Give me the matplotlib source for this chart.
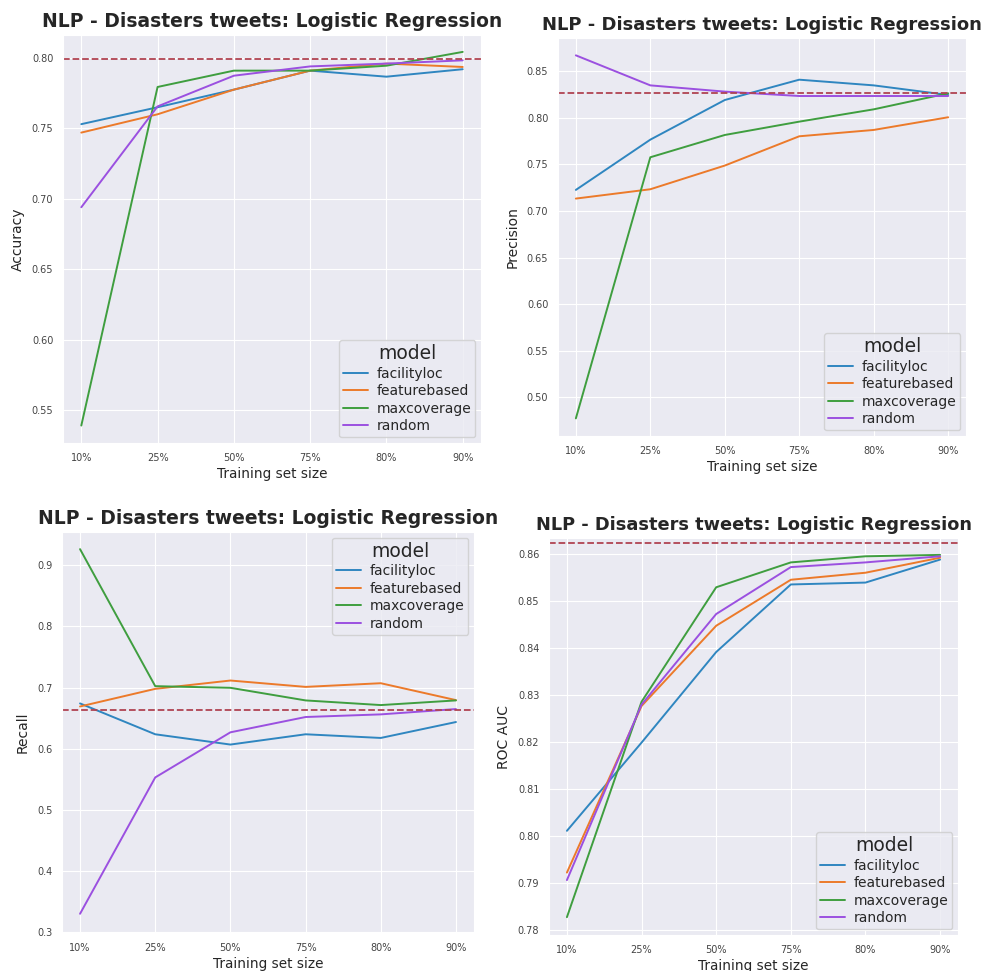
import matplotlib
matplotlib.use("Agg")
import matplotlib.pyplot as plt
import seaborn as sns
import numpy as np

sns.set_style("darkgrid")
plt.rcParams['font.family'] = ['DejaVu Sans']

sizes = ["10%", "25%", "50%", "75%", "80%", "90%"]
models = ["facilityloc", "featurebased", "maxcoverage", "random"]
colors = ["#2f86c0", "#ec7a2a", "#3f9e3f", "#9b50e0"]

# Accuracy
acc_facilityloc = [0.753, 0.765, 0.7775, 0.791, 0.7867, 0.792]
acc_featurebased = [0.747, 0.760, 0.7775, 0.791, 0.796, 0.7936]
acc_maxcoverage = [0.539, 0.7794, 0.791, 0.791, 0.7945, 0.8043]
acc_random = [0.694, 0.7656, 0.7874, 0.794, 0.796, 0.7983]
acc_baseline = 0.7993

# Precision
prec_facilityloc = [0.7225, 0.7764, 0.8189, 0.8407, 0.8346, 0.8243]
prec_featurebased = [0.7132, 0.7232, 0.7486, 0.780, 0.7868, 0.8004]
prec_maxcoverage = [0.4775, 0.7575, 0.7814, 0.7957, 0.8089, 0.8261]
prec_random = [0.8668, 0.8346, 0.8279, 0.8232, 0.8232, 0.8232]
prec_baseline = 0.8268

# Recall
rec_facilityloc = [0.674, 0.6236, 0.6068, 0.6236, 0.6176, 0.6436]
rec_featurebased = [0.669, 0.6978, 0.7114, 0.701, 0.707, 0.6794]
rec_maxcoverage = [0.926, 0.7022, 0.6995, 0.6789, 0.6713, 0.6789]
rec_random = [0.3304, 0.5531, 0.6268, 0.6518, 0.6561, 0.6648]
rec_baseline = 0.6626

# ROC AUC
auc_facilityloc = [0.8011, 0.8199, 0.8392, 0.8536, 0.8540, 0.8589]
auc_featurebased = [0.7922, 0.8277, 0.8448, 0.8546, 0.8561, 0.8593]
auc_maxcoverage = [0.7827, 0.8286, 0.8530, 0.8583, 0.8596, 0.8599]
auc_random = [0.7906, 0.8280, 0.8473, 0.8573, 0.8583, 0.8596]
auc_baseline = 0.8624

W, H = 984, 971
fig = plt.figure(figsize=(W / 100, H / 100), dpi=100)


def add_ax(x0, y0, x1, y1):
    return fig.add_axes([x0 / W, 1 - y1 / H, (x1 - x0) / W, (y1 - y0) / H])


panels = [
    # (box, ylabel, series, baseline, ylim, ticks, fmt, legend loc, title size)
    ((63, 35, 481, 443), "Accuracy",
     [acc_facilityloc, acc_featurebased, acc_maxcoverage, acc_random],
     acc_baseline, (0.5266, 0.8163), np.arange(0.55, 0.801, 0.05), "{:.2f}", "lower right", 13.5),
    ((558, 38, 966, 436), "Precision",
     [prec_facilityloc, prec_featurebased, prec_maxcoverage, prec_random],
     prec_baseline, (0.4586, 0.8854), np.arange(0.50, 0.851, 0.05), "{:.2f}", "lower right", 13.0),
    ((62, 532, 474, 933), "Recall",
     [rec_facilityloc, rec_featurebased, rec_maxcoverage, rec_random],
     rec_baseline, (0.299, 0.954), np.arange(0.3, 0.91, 0.1), "{:.1f}", "upper right", 13.5),
    ((549, 538, 958, 935), "ROC AUC",
     [auc_facilityloc, auc_featurebased, auc_maxcoverage, auc_random],
     auc_baseline, (0.7789, 0.8635), np.arange(0.78, 0.8601, 0.01), "{:.2f}", "lower right", 12.8),
]

x = np.arange(len(sizes))
for box, ylabel, series, base, ylim, ticks, fmt, loc, tsize in panels:
    ax = add_ax(*box)
    for name, vals, c in zip(models, series, colors):
        ax.plot(x, vals, color=c, lw=1.4, label=name)
    ax.axhline(base, color="#b04352", ls="--", lw=1.3)
    ax.set_xlim(-0.24, 5.24)
    ax.set_ylim(*ylim)
    ax.set_xticks(x)
    ax.set_xticklabels(sizes)
    ax.set_yticks(ticks)
    ax.set_yticklabels([fmt.format(t) for t in ticks])
    ax.tick_params(axis="both", labelsize=7, labelcolor="#444444", pad=7, length=0)
    ax.set_xlabel("Training set size", fontsize=9.8, color="#262626", labelpad=3)
    ax.set_ylabel(ylabel, fontsize=10, color="#262626", labelpad=5)
    ax.set_title("NLP - Disasters tweets: Logistic Regression", fontsize=tsize,
                 fontweight="bold", color="#262626", pad=6)
    leg = ax.legend(title="model", loc=loc, fontsize=10, title_fontsize=13.5,
                    handlelength=1.8, borderaxespad=0.4, labelspacing=0.25,
                    handletextpad=0.6, borderpad=0.3)

fig.savefig("out.png", dpi=100)
